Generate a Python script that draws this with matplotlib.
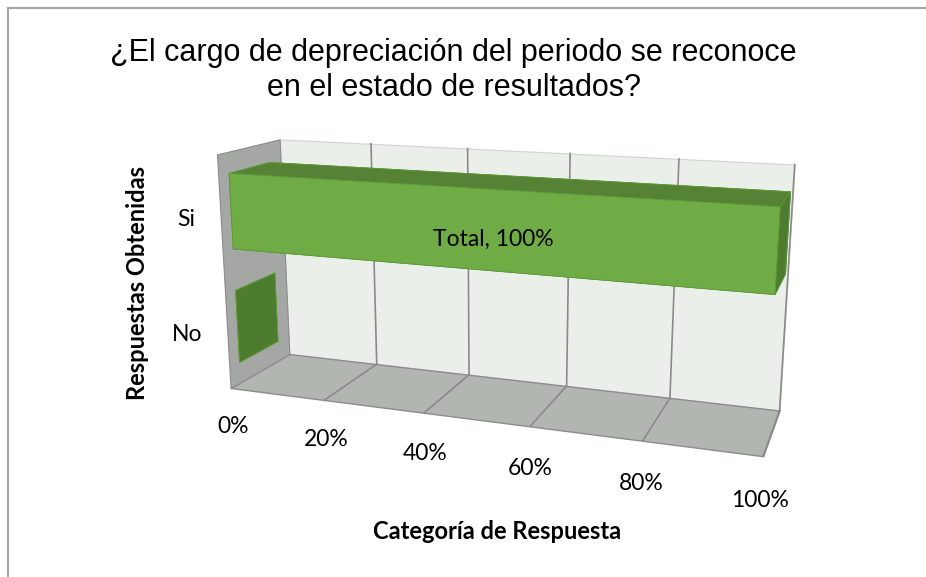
import numpy as np
import matplotlib.pyplot as plt
from matplotlib.patches import Rectangle
from mpl_toolkits.mplot3d.art3d import Poly3DCollection

# data
categories = ['No', 'Si']
values = [0, 100]
ticks = [0, 20, 40, 60, 80, 100]
tick_labels = ['0%', '20%', '40%', '60%', '80%', '100%']
title = '¿El cargo de depreciación del periodo se reconoce\nen el estado de resultados?'

fig = plt.figure(figsize=(9.26, 5.77), dpi=100)
fig.patches.append(Rectangle((8 / 926, -0.1), 1.2, 1.1 - 8 / 577, transform=fig.transFigure,
                             fill=False, edgecolor='#a6a6a6', lw=1.5))

zoom = 1.04
ax = fig.add_axes([0.029, -0.0026, 1.0, 1.0], projection='3d', computed_zorder=False)
ax.patch.set_visible(False)
ax.set_proj_type('persp', focal_length=0.366 * zoom)
ax.view_init(elev=14.2, azim=-70.4)
ax.set_box_aspect((443, 100, 198), zoom=zoom)
ax.set_xlim(0, 100)
ax.set_ylim(0, 1)
ax.set_zlim(0, len(categories))
ax.set_axis_off()

# walls and floor
x0, x1 = 0, 100
zt = len(categories)
left = [(x0, 0, 0), (x0, 1, 0), (x0, 1, zt), (x0, 0, zt)]
back = [(x0, 1, 0), (x1, 1, 0), (x1, 1, zt), (x0, 1, zt)]
floor = [(x0, 0, 0), (x1, 0, 0), (x1, 1, 0), (x0, 1, 0)]
arts = []
arts.append(ax.add_collection3d(Poly3DCollection([back], facecolor='#ebefe9', edgecolor='#d0d4ce',
                                                 lw=0.8, zorder=1)))
arts.append(ax.add_collection3d(Poly3DCollection([floor], facecolor='#b2b6b0', edgecolor='#8c8c8c',
                                                 lw=1, zorder=1)))
arts.append(ax.add_collection3d(Poly3DCollection([left], facecolor='#a5a7a5', edgecolor='#8c8c8c',
                                                 lw=0.8, zorder=1)))

for t in ticks[1:]:
    arts += ax.plot([t, t], [1, 1], [0, zt], color='#8a8a8a', lw=1.2, zorder=2)
    arts += ax.plot([t, t], [0, 1], [0, 0], color='#8a8a8a', lw=1.2, zorder=2)

# bars
bar_h = 0.64
bar_front, bar_depth = 0.16, 0.65
face_cols = ['#4b7a2c', '#558235', '#6fac46', '#6fac46', '#4b7a2c', '#4d7c2e']
for i, (c, v) in enumerate(zip(categories, values)):
    zc = i + 0.5
    arts.append(ax.bar3d(0, bar_front, zc - bar_h / 2, v, bar_depth, bar_h,
                         color=face_cols, shade=False, lw=0.6, edgecolor='#5e9a3a', zorder=3))
    ax.text(-5.5, 0, zc - 0.05, c, ha='right', va='center', fontsize=16.5, family='Lato')

ax.text(52, bar_front, 1.43, 'Total, 100%', ha='center', va='center', fontsize=16.5,
        family='Lato', zorder=5)

for t, lab in zip(ticks, tick_labels):
    ax.text(t, 0, -0.35, lab, ha='center', va='center', fontsize=16.5, family='Lato')

for a in arts:
    a.set_clip_on(False)

fig.text(0.49, 0.878, title, ha='center', va='center', fontsize=22, family='Liberation Sans',
         linespacing=1.2)
fig.text(0.537, 0.078, 'Categoría de Respuesta', ha='center', va='center', fontsize=17,
         fontweight='bold', family='Lato')
fig.text(0.149, 0.51, 'Respuestas Obtenidas', ha='center', va='center', rotation=90,
         fontsize=17, fontweight='bold', family='Lato')

fig.savefig('out.png', dpi=100)
